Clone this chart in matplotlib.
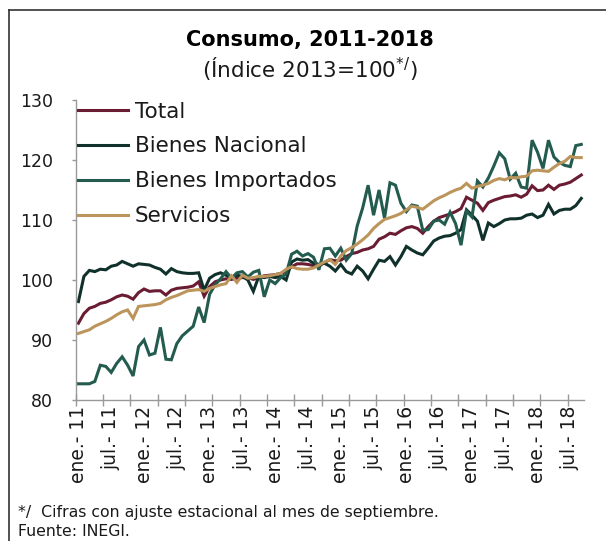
import matplotlib
matplotlib.use('Agg')
import matplotlib.pyplot as plt
import numpy as np
from matplotlib.lines import Line2D

# Monthly index, ene-2011 .. sep-2018 (93 months)
total = [92.8, 94.4, 95.3, 95.6, 96.1, 96.3, 96.7, 97.2, 97.5, 97.3, 96.8, 97.9,
         98.5, 98.1, 98.2, 98.2, 97.5, 98.3, 98.6, 98.7, 98.8, 99.0, 99.7, 97.3,
         98.9, 99.7, 100.0, 100.2, 100.1, 100.3, 100.4, 100.4, 100.1, 100.4, 100.7, 100.8,
         100.9, 101.1, 101.4, 102.2, 102.7, 102.7, 102.6, 102.4, 102.3, 102.9, 103.4, 103.2,
         103.3, 103.9, 104.4, 104.6, 105.0, 105.2, 105.6, 106.8, 107.2, 107.8, 107.6, 108.2,
         108.7, 108.9, 108.6, 107.8, 108.9, 109.8, 110.4, 110.7, 111.0, 111.4, 111.9, 113.8,
         113.3, 112.8, 111.6, 112.9, 113.3, 113.6, 113.9, 114.0, 114.2, 113.8, 114.3, 115.7,
         114.9, 115.0, 115.8, 115.1, 115.8, 116.0, 116.3, 116.9, 117.5]

bienes_nacional = [96.4, 100.6, 101.6, 101.4, 101.8, 101.7, 102.3, 102.5, 103.1, 102.7, 102.3, 102.7,
                   102.6, 102.5, 102.1, 101.8, 101.0, 101.9, 101.4, 101.2, 101.1, 101.1, 101.2, 98.3,
                   100.3, 100.9, 101.2, 100.8, 100.3, 100.8, 100.6, 100.0, 98.1, 100.6, 100.4, 100.6,
                   100.4, 100.6, 100.0, 103.0, 103.5, 103.3, 103.4, 102.8, 102.6, 102.8, 102.3, 101.5,
                   102.6, 101.4, 101.0, 102.3, 101.5, 100.2, 101.8, 103.3, 103.1, 103.9, 102.5, 103.9,
                   105.6, 105.0, 104.5, 104.2, 105.3, 106.5, 107.0, 107.3, 107.4, 107.8, 108.4, 111.7,
                   110.8, 109.8, 106.6, 109.5, 108.9, 109.4, 110.0, 110.2, 110.2, 110.3, 110.8, 111.0,
                   110.4, 110.8, 112.6, 111.0, 111.6, 111.8, 111.8, 112.4, 113.6]

bienes_importados = [82.7, 82.7, 82.7, 83.1, 85.8, 85.6, 84.6, 86.1, 87.2, 85.8, 84.0, 88.9,
                     90.0, 87.5, 87.8, 92.1, 86.8, 86.7, 89.4, 90.7, 91.5, 92.3, 95.5, 92.9,
                     97.6, 99.2, 100.2, 101.4, 100.3, 101.2, 101.4, 100.5, 101.3, 101.6, 97.2, 100.0,
                     99.4, 100.4, 101.0, 104.3, 104.8, 104.0, 104.4, 103.8, 101.7, 105.2, 105.3, 104.0,
                     105.3, 103.3, 104.4, 109.0, 112.0, 115.8, 110.8, 115.0, 110.3, 116.2, 115.8, 112.8,
                     111.4, 112.5, 112.3, 108.3, 108.4, 109.8, 110.0, 109.3, 111.3, 109.4, 105.8, 111.5,
                     110.5, 116.5, 115.5, 117.0, 119.0, 121.2, 120.2, 116.8, 117.8, 115.5, 115.3, 123.3,
                     121.3, 118.6, 123.3, 120.5, 119.6, 119.1, 118.9, 122.4, 122.6]

servicios = [91.1, 91.4, 91.7, 92.3, 92.7, 93.1, 93.6, 94.2, 94.7, 95.0, 93.6, 95.6,
             95.7, 95.8, 95.9, 96.1, 96.7, 97.1, 97.4, 97.8, 98.2, 98.3, 98.4, 98.1,
             98.6, 98.9, 99.2, 99.4, 100.7, 99.6, 100.8, 100.3, 100.4, 100.6, 100.6, 100.7,
             100.9, 101.1, 101.8, 102.2, 101.9, 101.8, 101.8, 102.0, 102.5, 103.0, 103.4, 102.6,
             104.0, 104.9, 105.4, 106.0, 106.7, 107.5, 108.6, 109.4, 110.1, 110.4, 110.7, 111.1,
             111.7, 112.3, 112.1, 111.8, 112.5, 113.2, 113.7, 114.1, 114.6, 115.0, 115.3, 116.1,
             115.3, 115.6, 115.8, 116.1, 116.6, 116.9, 116.7, 117.1, 117.0, 117.2, 117.3, 118.2,
             118.3, 118.2, 118.1, 118.8, 119.4, 119.8, 120.6, 120.4, 120.4]

series_names = ['Total', 'Bienes Nacional', 'Bienes Importados', 'Servicios']
series_colors = ['#691C32', '#10312B', '#235B4E', '#BC955C']

tick_labels = ['ene.- 11', 'jul.- 11', 'ene.- 12', 'jul.- 12', 'ene.- 13', 'jul.- 13',
               'ene.- 14', 'jul.- 14', 'ene.- 15', 'jul.- 15', 'ene.- 16', 'jul.- 16',
               'ene.- 17', 'jul.- 17', 'ene.- 18', 'jul.- 18']
label_step = 6
tick_step = 5

plt.rcParams['font.family'] = ['DejaVu Sans']

W, H = 606, 541
fig = plt.figure(figsize=(W / 100, H / 100), dpi=100)
ax = fig.add_axes([75.7 / W, 1 - 400 / H, (584 - 75.7) / W, 300 / H])

n = len(total)
x = np.arange(n)
for vals, name, col in zip([total, bienes_nacional, bienes_importados, servicios],
                           series_names, series_colors):
    ax.plot(x, vals, color=col, lw=2.2, label=name, solid_joinstyle='miter')

ax.set_xlim(-0.5, n - 0.5)
ax.set_ylim(80, 130)
ax.set_yticks(np.arange(80, 131, 10))

ax.set_xticks(np.arange(-0.5, n - 3, tick_step))
ax.set_xticks(np.arange(0, len(tick_labels) * label_step, label_step), minor=True)
ax.set_xticklabels([])
ax.set_xticklabels(tick_labels, minor=True, rotation=90, va='top', ha='center')
ax.tick_params(axis='x', which='major', direction='inout', length=9, width=1, color='#999999')
ax.tick_params(axis='x', which='minor', length=0, pad=4, labelsize=13.5, labelcolor='#1a1a1a')
ax.tick_params(axis='y', direction='out', length=3, width=1, color='#999999',
               labelsize=12.5, labelcolor='#1a1a1a', pad=13.5)

for s in ['top', 'right']:
    ax.spines[s].set_visible(False)
for s in ['left', 'bottom']:
    ax.spines[s].set_color('#999999')
    ax.spines[s].set_linewidth(1)

leg = ax.legend(loc='upper left', bbox_to_anchor=(0.004, 0.995), frameon=False,
                fontsize=15.5, handlelength=2.33, handletextpad=0.33, labelspacing=0.69,
                borderpad=0, borderaxespad=0)
for t in leg.get_texts():
    t.set_color('#1a1a1a')

fig.text(310 / W, 1 - 40 / H, 'Consumo, 2011-2018', ha='center', va='center',
         fontsize=15, fontweight='bold', color='#000000')
fig.text(310 / W, 1 - 69 / H, '(Índice 2013=100$^{*/}$)', ha='center', va='center',
         fontsize=15.5, color='#1a1a1a')

fig.text(18 / W, 1 - 513 / H, '*/  Cifras con ajuste estacional al mes de septiembre.',
         ha='left', va='center', fontsize=11.3, color='#1a1a1a')
fig.text(18 / W, 1 - 531 / H, 'Fuente: INEGI.', ha='left', va='center',
         fontsize=11.3, color='#1a1a1a')

fig.add_artist(Line2D([9 / W, 1], [1 - 10 / H, 1 - 10 / H], color='#333333', lw=1.2))
fig.add_artist(Line2D([9 / W, 9 / W], [0, 1 - 10 / H], color='#333333', lw=1.2))

fig.savefig('out.png', dpi=100)
